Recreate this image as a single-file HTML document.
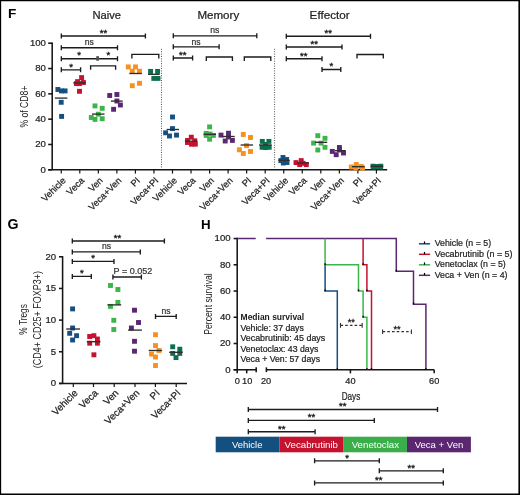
<!DOCTYPE html><html><head><meta charset="utf-8"><style>html,body{margin:0;padding:0;background:#fff;width:520px;height:495px;overflow:hidden;}svg{display:block;font-family:"Liberation Sans",sans-serif;will-change:transform;}</style></head><body>
<svg width="520" height="495" viewBox="0 0 520 495">
<rect x="0" y="0" width="520" height="495" fill="#fff"/>
<path d="M0,0H520V495H0Z M1.15,1.15V493.4H518.4V1.15Z" fill="#000" fill-rule="evenodd"/>
<text x="8.10" y="18.20" font-size="13.6" text-anchor="start" font-weight="bold" fill="#000" >F</text>
<text x="106.80" y="18.80" font-size="10.8" text-anchor="middle" font-weight="normal" fill="#222"  stroke="#222" stroke-width="0.22" textLength="28.6" lengthAdjust="spacingAndGlyphs">Naive</text>
<text x="218.30" y="18.70" font-size="10.8" text-anchor="middle" font-weight="normal" fill="#222"  stroke="#222" stroke-width="0.22" textLength="41.8" lengthAdjust="spacingAndGlyphs">Memory</text>
<text x="329.60" y="18.70" font-size="10.8" text-anchor="middle" font-weight="normal" fill="#222"  stroke="#222" stroke-width="0.22" textLength="40.0" lengthAdjust="spacingAndGlyphs">Effector</text>
<line x1="52.20" y1="42.50" x2="52.20" y2="169.80" stroke="#151515" stroke-width="1.55" />
<line x1="48.20" y1="169.80" x2="52.20" y2="169.80" stroke="#151515" stroke-width="1.55" />
<text x="45.90" y="172.55" font-size="9.6" text-anchor="end" font-weight="normal" fill="#222"  stroke="#222" stroke-width="0.22">0</text>
<line x1="48.20" y1="144.48" x2="52.20" y2="144.48" stroke="#151515" stroke-width="1.55" />
<text x="45.90" y="147.23" font-size="9.6" text-anchor="end" font-weight="normal" fill="#222"  stroke="#222" stroke-width="0.22">20</text>
<line x1="48.20" y1="119.16" x2="52.20" y2="119.16" stroke="#151515" stroke-width="1.55" />
<text x="45.90" y="121.91" font-size="9.6" text-anchor="end" font-weight="normal" fill="#222"  stroke="#222" stroke-width="0.22">40</text>
<line x1="48.20" y1="93.84" x2="52.20" y2="93.84" stroke="#151515" stroke-width="1.55" />
<text x="45.90" y="96.59" font-size="9.6" text-anchor="end" font-weight="normal" fill="#222"  stroke="#222" stroke-width="0.22">60</text>
<line x1="48.20" y1="68.52" x2="52.20" y2="68.52" stroke="#151515" stroke-width="1.55" />
<text x="45.90" y="71.27" font-size="9.6" text-anchor="end" font-weight="normal" fill="#222"  stroke="#222" stroke-width="0.22">80</text>
<line x1="48.20" y1="43.20" x2="52.20" y2="43.20" stroke="#151515" stroke-width="1.55" />
<text x="45.90" y="45.95" font-size="9.6" text-anchor="end" font-weight="normal" fill="#222"  stroke="#222" stroke-width="0.22">100</text>
<text transform="translate(27.90,106.60) rotate(-90) scale(1.0,1)" font-size="10.6" text-anchor="middle" fill="#222" textLength="42" lengthAdjust="spacingAndGlyphs">% of CD8+</text>
<line x1="48.20" y1="169.80" x2="387.20" y2="169.80" stroke="#151515" stroke-width="1.55" />
<line x1="61.25" y1="169.80" x2="61.25" y2="173.60" stroke="#151515" stroke-width="1.2" />
<text transform="translate(66.45,181.10) rotate(-45) scale(1.0,1)" font-size="9.3" text-anchor="end" fill="#222" stroke="#222" stroke-width="0.22">Vehicle</text>
<line x1="79.79" y1="169.80" x2="79.79" y2="173.60" stroke="#151515" stroke-width="1.2" />
<text transform="translate(84.99,181.10) rotate(-45) scale(1.0,1)" font-size="9.3" text-anchor="end" fill="#222" stroke="#222" stroke-width="0.22">Veca</text>
<line x1="98.33" y1="169.80" x2="98.33" y2="173.60" stroke="#151515" stroke-width="1.2" />
<text transform="translate(103.53,181.10) rotate(-45) scale(1.0,1)" font-size="9.3" text-anchor="end" fill="#222" stroke="#222" stroke-width="0.22">Ven</text>
<line x1="116.87" y1="169.80" x2="116.87" y2="173.60" stroke="#151515" stroke-width="1.2" />
<text transform="translate(122.07,181.10) rotate(-45) scale(1.0,1)" font-size="9.3" text-anchor="end" fill="#222" stroke="#222" stroke-width="0.22">Veca+Ven</text>
<line x1="135.41" y1="169.80" x2="135.41" y2="173.60" stroke="#151515" stroke-width="1.2" />
<text transform="translate(140.61,181.10) rotate(-45) scale(1.0,1)" font-size="9.3" text-anchor="end" fill="#222" stroke="#222" stroke-width="0.22">PI</text>
<line x1="153.95" y1="169.80" x2="153.95" y2="173.60" stroke="#151515" stroke-width="1.2" />
<text transform="translate(159.15,181.10) rotate(-45) scale(1.0,1)" font-size="9.3" text-anchor="end" fill="#222" stroke="#222" stroke-width="0.22">Veca+PI</text>
<line x1="172.49" y1="169.80" x2="172.49" y2="173.60" stroke="#151515" stroke-width="1.2" />
<text transform="translate(177.69,181.10) rotate(-45) scale(1.0,1)" font-size="9.3" text-anchor="end" fill="#222" stroke="#222" stroke-width="0.22">Vehicle</text>
<line x1="191.03" y1="169.80" x2="191.03" y2="173.60" stroke="#151515" stroke-width="1.2" />
<text transform="translate(196.23,181.10) rotate(-45) scale(1.0,1)" font-size="9.3" text-anchor="end" fill="#222" stroke="#222" stroke-width="0.22">Veca</text>
<line x1="209.57" y1="169.80" x2="209.57" y2="173.60" stroke="#151515" stroke-width="1.2" />
<text transform="translate(214.77,181.10) rotate(-45) scale(1.0,1)" font-size="9.3" text-anchor="end" fill="#222" stroke="#222" stroke-width="0.22">Ven</text>
<line x1="228.11" y1="169.80" x2="228.11" y2="173.60" stroke="#151515" stroke-width="1.2" />
<text transform="translate(233.31,181.10) rotate(-45) scale(1.0,1)" font-size="9.3" text-anchor="end" fill="#222" stroke="#222" stroke-width="0.22">Veca+Ven</text>
<line x1="246.65" y1="169.80" x2="246.65" y2="173.60" stroke="#151515" stroke-width="1.2" />
<text transform="translate(251.85,181.10) rotate(-45) scale(1.0,1)" font-size="9.3" text-anchor="end" fill="#222" stroke="#222" stroke-width="0.22">PI</text>
<line x1="265.19" y1="169.80" x2="265.19" y2="173.60" stroke="#151515" stroke-width="1.2" />
<text transform="translate(270.39,181.10) rotate(-45) scale(1.0,1)" font-size="9.3" text-anchor="end" fill="#222" stroke="#222" stroke-width="0.22">Veca+PI</text>
<line x1="283.73" y1="169.80" x2="283.73" y2="173.60" stroke="#151515" stroke-width="1.2" />
<text transform="translate(288.93,181.10) rotate(-45) scale(1.0,1)" font-size="9.3" text-anchor="end" fill="#222" stroke="#222" stroke-width="0.22">Vehicle</text>
<line x1="302.27" y1="169.80" x2="302.27" y2="173.60" stroke="#151515" stroke-width="1.2" />
<text transform="translate(307.47,181.10) rotate(-45) scale(1.0,1)" font-size="9.3" text-anchor="end" fill="#222" stroke="#222" stroke-width="0.22">Veca</text>
<line x1="320.81" y1="169.80" x2="320.81" y2="173.60" stroke="#151515" stroke-width="1.2" />
<text transform="translate(326.01,181.10) rotate(-45) scale(1.0,1)" font-size="9.3" text-anchor="end" fill="#222" stroke="#222" stroke-width="0.22">Ven</text>
<line x1="339.35" y1="169.80" x2="339.35" y2="173.60" stroke="#151515" stroke-width="1.2" />
<text transform="translate(344.55,181.10) rotate(-45) scale(1.0,1)" font-size="9.3" text-anchor="end" fill="#222" stroke="#222" stroke-width="0.22">Veca+Ven</text>
<line x1="357.89" y1="169.80" x2="357.89" y2="173.60" stroke="#151515" stroke-width="1.2" />
<text transform="translate(363.09,181.10) rotate(-45) scale(1.0,1)" font-size="9.3" text-anchor="end" fill="#222" stroke="#222" stroke-width="0.22">PI</text>
<line x1="376.43" y1="169.80" x2="376.43" y2="173.60" stroke="#151515" stroke-width="1.2" />
<text transform="translate(381.63,181.10) rotate(-45) scale(1.0,1)" font-size="9.3" text-anchor="end" fill="#222" stroke="#222" stroke-width="0.22">Veca+PI</text>
<line x1="161.50" y1="48.80" x2="161.50" y2="168.20" stroke="#555" stroke-width="1.0" stroke-dasharray="1,1.4"/>
<line x1="274.60" y1="48.80" x2="274.60" y2="168.20" stroke="#555" stroke-width="1.0" stroke-dasharray="1,1.4"/>
<path d="M61.30,33.50V38.50M61.30,36.00H145.40M145.40,33.50V38.50" fill="none" stroke="#1c1c1c" stroke-width="1.35"/>
<text x="103.50" y="35.80" font-size="9.5" text-anchor="middle" fill="#1c1c1c" stroke="#1c1c1c" stroke-width="0.38">**</text>
<path d="M61.30,45.20V50.20M61.30,47.70H117.50M117.50,45.20V50.20" fill="none" stroke="#1c1c1c" stroke-width="1.35"/>
<text x="89.30" y="45.20" font-size="8.6" text-anchor="middle" font-weight="normal" fill="#333"  stroke="#333" stroke-width="0.22">ns</text>
<path d="M61.30,56.20V61.20M61.30,58.70H117.50M117.50,56.20V61.20" fill="none" stroke="#1c1c1c" stroke-width="1.35"/>
<text x="79.00" y="58.40" font-size="9.5" text-anchor="middle" fill="#1c1c1c" stroke="#1c1c1c" stroke-width="0.38">*</text>
<text x="108.30" y="58.40" font-size="9.5" text-anchor="middle" fill="#1c1c1c" stroke="#1c1c1c" stroke-width="0.38">*</text>
<rect x="96.2" y="56.2" width="2.8" height="4.5" fill="#505050"/>
<path d="M61.30,67.30V72.30M61.30,69.80H80.60M80.60,67.30V72.30" fill="none" stroke="#1c1c1c" stroke-width="1.35"/>
<text x="71.00" y="69.50" font-size="9.5" text-anchor="middle" fill="#1c1c1c" stroke="#1c1c1c" stroke-width="0.38">*</text>
<path d="M90.60,69.80V65.80H115.60V69.80" fill="none" stroke="#1c1c1c" stroke-width="1.35"/>
<path d="M131.90,58.40V54.40H158.80V58.40" fill="none" stroke="#1c1c1c" stroke-width="1.35"/>
<path d="M173.30,33.30V38.30M173.30,35.80H256.80M256.80,33.30V38.30" fill="none" stroke="#1c1c1c" stroke-width="1.35"/>
<text x="214.80" y="33.40" font-size="8.6" text-anchor="middle" font-weight="normal" fill="#333"  stroke="#333" stroke-width="0.22">ns</text>
<path d="M173.30,44.30V49.30M173.30,46.80H219.10M219.10,44.30V49.30" fill="none" stroke="#1c1c1c" stroke-width="1.35"/>
<text x="196.10" y="44.50" font-size="8.6" text-anchor="middle" font-weight="normal" fill="#333"  stroke="#333" stroke-width="0.22">ns</text>
<path d="M173.30,55.50V60.50M173.30,58.00H192.60M192.60,55.50V60.50" fill="none" stroke="#1c1c1c" stroke-width="1.35"/>
<text x="182.70" y="57.80" font-size="9.5" text-anchor="middle" fill="#1c1c1c" stroke="#1c1c1c" stroke-width="0.38">**</text>
<path d="M206.30,61.00V57.00H232.40V61.00" fill="none" stroke="#1c1c1c" stroke-width="1.35"/>
<path d="M244.30,61.00V57.00H270.80V61.00" fill="none" stroke="#1c1c1c" stroke-width="1.35"/>
<path d="M286.30,33.70V38.70M286.30,36.20H370.50M370.50,33.70V38.70" fill="none" stroke="#1c1c1c" stroke-width="1.35"/>
<text x="328.30" y="36.00" font-size="9.5" text-anchor="middle" fill="#1c1c1c" stroke="#1c1c1c" stroke-width="0.38">**</text>
<path d="M286.30,44.50V49.50M286.30,47.00H342.00M342.00,44.50V49.50" fill="none" stroke="#1c1c1c" stroke-width="1.35"/>
<text x="314.30" y="46.80" font-size="9.5" text-anchor="middle" fill="#1c1c1c" stroke="#1c1c1c" stroke-width="0.38">**</text>
<path d="M286.30,56.20V61.20M286.30,58.70H322.00M322.00,56.20V61.20" fill="none" stroke="#1c1c1c" stroke-width="1.35"/>
<text x="303.80" y="58.50" font-size="9.5" text-anchor="middle" fill="#1c1c1c" stroke="#1c1c1c" stroke-width="0.38">**</text>
<path d="M322.00,67.00V72.00M322.00,69.50H340.80M340.80,67.00V72.00" fill="none" stroke="#1c1c1c" stroke-width="1.35"/>
<text x="331.30" y="69.30" font-size="9.5" text-anchor="middle" fill="#1c1c1c" stroke="#1c1c1c" stroke-width="0.38">*</text>
<path d="M357.00,58.50V54.50H383.30V58.50" fill="none" stroke="#1c1c1c" stroke-width="1.35"/>
<rect x="55.45" y="87.05" width="4.9" height="4.9" fill="#164F80"/>
<rect x="59.05" y="88.45" width="4.9" height="4.9" fill="#164F80"/>
<rect x="62.65" y="88.45" width="4.9" height="4.9" fill="#164F80"/>
<rect x="58.75" y="99.85" width="4.9" height="4.9" fill="#164F80"/>
<rect x="59.15" y="113.95" width="4.9" height="4.9" fill="#164F80"/>
<line x1="54.90" y1="98.10" x2="67.40" y2="98.10" stroke="#2e2e2e" stroke-width="1.35" />
<rect x="79.15" y="75.15" width="4.9" height="4.9" fill="#C5122F"/>
<rect x="75.15" y="79.15" width="4.9" height="4.9" fill="#C5122F"/>
<rect x="80.95" y="80.05" width="4.9" height="4.9" fill="#C5122F"/>
<rect x="73.95" y="81.15" width="4.9" height="4.9" fill="#C5122F"/>
<rect x="76.95" y="81.15" width="4.9" height="4.9" fill="#C5122F"/>
<rect x="77.05" y="88.85" width="4.9" height="4.9" fill="#C5122F"/>
<line x1="73.30" y1="82.90" x2="86.00" y2="82.90" stroke="#2e2e2e" stroke-width="1.35" />
<rect x="92.55" y="103.45" width="4.9" height="4.9" fill="#3BB54A"/>
<rect x="99.75" y="105.85" width="4.9" height="4.9" fill="#3BB54A"/>
<rect x="95.85" y="111.75" width="4.9" height="4.9" fill="#3BB54A"/>
<rect x="88.85" y="115.05" width="4.9" height="4.9" fill="#3BB54A"/>
<rect x="92.55" y="116.95" width="4.9" height="4.9" fill="#3BB54A"/>
<rect x="99.75" y="116.25" width="4.9" height="4.9" fill="#3BB54A"/>
<line x1="92.00" y1="114.10" x2="104.50" y2="114.10" stroke="#2e2e2e" stroke-width="1.35" />
<rect x="107.25" y="93.05" width="4.9" height="4.9" fill="#5A2770"/>
<rect x="114.45" y="92.05" width="4.9" height="4.9" fill="#5A2770"/>
<rect x="114.45" y="98.55" width="4.9" height="4.9" fill="#5A2770"/>
<rect x="117.95" y="102.55" width="4.9" height="4.9" fill="#5A2770"/>
<rect x="111.15" y="106.85" width="4.9" height="4.9" fill="#5A2770"/>
<line x1="110.90" y1="101.10" x2="122.70" y2="101.10" stroke="#2e2e2e" stroke-width="1.35" />
<rect x="125.85" y="64.45" width="4.9" height="4.9" fill="#F7901E"/>
<rect x="133.05" y="64.45" width="4.9" height="4.9" fill="#F7901E"/>
<rect x="129.85" y="68.75" width="4.9" height="4.9" fill="#F7901E"/>
<rect x="137.05" y="68.75" width="4.9" height="4.9" fill="#F7901E"/>
<rect x="129.85" y="83.25" width="4.9" height="4.9" fill="#F7901E"/>
<rect x="137.05" y="80.85" width="4.9" height="4.9" fill="#F7901E"/>
<line x1="129.30" y1="73.50" x2="141.80" y2="73.50" stroke="#2e2e2e" stroke-width="1.35" />
<rect x="148.15" y="68.95" width="4.9" height="4.9" fill="#0B6E4F"/>
<rect x="155.15" y="68.95" width="4.9" height="4.9" fill="#0B6E4F"/>
<rect x="151.35" y="75.95" width="4.9" height="4.9" fill="#0B6E4F"/>
<rect x="155.55" y="75.95" width="4.9" height="4.9" fill="#0B6E4F"/>
<line x1="148.00" y1="74.30" x2="159.70" y2="74.30" stroke="#2e2e2e" stroke-width="1.35" />
<rect x="170.05" y="114.55" width="4.9" height="4.9" fill="#164F80"/>
<rect x="170.05" y="126.15" width="4.9" height="4.9" fill="#164F80"/>
<rect x="163.15" y="130.35" width="4.9" height="4.9" fill="#164F80"/>
<rect x="167.05" y="133.55" width="4.9" height="4.9" fill="#164F80"/>
<rect x="174.05" y="132.65" width="4.9" height="4.9" fill="#164F80"/>
<line x1="166.60" y1="129.50" x2="179.00" y2="129.50" stroke="#2e2e2e" stroke-width="1.35" />
<rect x="188.85" y="134.75" width="4.9" height="4.9" fill="#C5122F"/>
<rect x="185.05" y="138.05" width="4.9" height="4.9" fill="#C5122F"/>
<rect x="192.35" y="138.35" width="4.9" height="4.9" fill="#C5122F"/>
<rect x="185.05" y="140.05" width="4.9" height="4.9" fill="#C5122F"/>
<rect x="189.05" y="141.75" width="4.9" height="4.9" fill="#C5122F"/>
<rect x="192.85" y="141.75" width="4.9" height="4.9" fill="#C5122F"/>
<line x1="184.90" y1="141.20" x2="197.40" y2="141.20" stroke="#2e2e2e" stroke-width="1.35" />
<rect x="207.15" y="124.45" width="4.9" height="4.9" fill="#3BB54A"/>
<rect x="203.75" y="130.95" width="4.9" height="4.9" fill="#3BB54A"/>
<rect x="210.95" y="132.95" width="4.9" height="4.9" fill="#3BB54A"/>
<rect x="203.75" y="132.95" width="4.9" height="4.9" fill="#3BB54A"/>
<rect x="207.15" y="136.75" width="4.9" height="4.9" fill="#3BB54A"/>
<rect x="207.55" y="131.55" width="4.9" height="4.9" fill="#3BB54A"/>
<line x1="203.60" y1="134.30" x2="216.00" y2="134.30" stroke="#2e2e2e" stroke-width="1.35" />
<rect x="218.55" y="132.65" width="4.9" height="4.9" fill="#5A2770"/>
<rect x="226.05" y="130.75" width="4.9" height="4.9" fill="#5A2770"/>
<rect x="222.75" y="138.55" width="4.9" height="4.9" fill="#5A2770"/>
<rect x="229.95" y="137.95" width="4.9" height="4.9" fill="#5A2770"/>
<rect x="226.05" y="134.55" width="4.9" height="4.9" fill="#5A2770"/>
<line x1="222.20" y1="136.50" x2="234.70" y2="136.50" stroke="#2e2e2e" stroke-width="1.35" />
<rect x="240.85" y="132.05" width="4.9" height="4.9" fill="#F7901E"/>
<rect x="248.05" y="135.05" width="4.9" height="4.9" fill="#F7901E"/>
<rect x="244.05" y="143.15" width="4.9" height="4.9" fill="#F7901E"/>
<rect x="236.95" y="147.35" width="4.9" height="4.9" fill="#F7901E"/>
<rect x="240.85" y="151.05" width="4.9" height="4.9" fill="#F7901E"/>
<rect x="248.05" y="149.05" width="4.9" height="4.9" fill="#F7901E"/>
<line x1="240.60" y1="145.00" x2="253.10" y2="145.00" stroke="#2e2e2e" stroke-width="1.35" />
<rect x="259.85" y="138.95" width="4.9" height="4.9" fill="#0B6E4F"/>
<rect x="266.45" y="138.95" width="4.9" height="4.9" fill="#0B6E4F"/>
<rect x="259.65" y="144.85" width="4.9" height="4.9" fill="#0B6E4F"/>
<rect x="266.75" y="144.85" width="4.9" height="4.9" fill="#0B6E4F"/>
<rect x="263.15" y="141.95" width="4.9" height="4.9" fill="#0B6E4F"/>
<rect x="263.15" y="145.15" width="4.9" height="4.9" fill="#0B6E4F"/>
<line x1="259.00" y1="145.00" x2="271.70" y2="145.00" stroke="#2e2e2e" stroke-width="1.35" />
<rect x="280.55" y="155.05" width="4.9" height="4.9" fill="#164F80"/>
<rect x="278.45" y="158.15" width="4.9" height="4.9" fill="#164F80"/>
<rect x="284.15" y="157.05" width="4.9" height="4.9" fill="#164F80"/>
<rect x="280.85" y="160.55" width="4.9" height="4.9" fill="#164F80"/>
<rect x="284.55" y="160.05" width="4.9" height="4.9" fill="#164F80"/>
<line x1="278.30" y1="160.30" x2="289.70" y2="160.30" stroke="#2e2e2e" stroke-width="1.35" />
<rect x="298.75" y="158.15" width="4.9" height="4.9" fill="#C5122F"/>
<rect x="293.55" y="160.15" width="4.9" height="4.9" fill="#C5122F"/>
<rect x="297.25" y="162.15" width="4.9" height="4.9" fill="#C5122F"/>
<rect x="303.85" y="162.15" width="4.9" height="4.9" fill="#C5122F"/>
<rect x="300.55" y="160.85" width="4.9" height="4.9" fill="#C5122F"/>
<line x1="297.00" y1="163.00" x2="309.00" y2="163.00" stroke="#2e2e2e" stroke-width="1.35" />
<rect x="315.35" y="133.25" width="4.9" height="4.9" fill="#3BB54A"/>
<rect x="322.55" y="135.85" width="4.9" height="4.9" fill="#3BB54A"/>
<rect x="311.15" y="140.65" width="4.9" height="4.9" fill="#3BB54A"/>
<rect x="318.55" y="140.65" width="4.9" height="4.9" fill="#3BB54A"/>
<rect x="322.55" y="144.85" width="4.9" height="4.9" fill="#3BB54A"/>
<rect x="315.35" y="147.55" width="4.9" height="4.9" fill="#3BB54A"/>
<line x1="315.10" y1="142.30" x2="327.20" y2="142.30" stroke="#2e2e2e" stroke-width="1.35" />
<rect x="336.95" y="145.05" width="4.9" height="4.9" fill="#5A2770"/>
<rect x="329.85" y="148.95" width="4.9" height="4.9" fill="#5A2770"/>
<rect x="333.75" y="152.25" width="4.9" height="4.9" fill="#5A2770"/>
<rect x="341.05" y="150.55" width="4.9" height="4.9" fill="#5A2770"/>
<rect x="337.05" y="147.55" width="4.9" height="4.9" fill="#5A2770"/>
<line x1="334.80" y1="150.70" x2="345.70" y2="150.70" stroke="#2e2e2e" stroke-width="1.35" />
<rect x="353.85" y="162.05" width="4.9" height="4.9" fill="#F7901E"/>
<rect x="348.85" y="164.55" width="4.9" height="4.9" fill="#F7901E"/>
<rect x="358.85" y="164.05" width="4.9" height="4.9" fill="#F7901E"/>
<rect x="353.55" y="165.55" width="4.9" height="4.9" fill="#F7901E"/>
<rect x="360.05" y="165.55" width="4.9" height="4.9" fill="#F7901E"/>
<line x1="352.00" y1="166.70" x2="364.60" y2="166.70" stroke="#2e2e2e" stroke-width="1.35" />
<rect x="370.55" y="163.75" width="4.9" height="4.9" fill="#0B6E4F"/>
<rect x="378.35" y="163.75" width="4.9" height="4.9" fill="#0B6E4F"/>
<rect x="374.05" y="164.05" width="4.9" height="4.9" fill="#0B6E4F"/>
<rect x="371.05" y="164.55" width="4.9" height="4.9" fill="#0B6E4F"/>
<rect x="378.05" y="164.55" width="4.9" height="4.9" fill="#0B6E4F"/>
<line x1="370.60" y1="166.30" x2="383.20" y2="166.30" stroke="#2e2e2e" stroke-width="1.35" />
<text x="7.50" y="228.50" font-size="14.2" text-anchor="start" font-weight="bold" fill="#000" >G</text>
<line x1="62.60" y1="256.10" x2="62.60" y2="383.40" stroke="#151515" stroke-width="1.55" />
<line x1="59.00" y1="383.40" x2="62.60" y2="383.40" stroke="#151515" stroke-width="1.55" />
<text x="56.20" y="386.15" font-size="9.6" text-anchor="end" font-weight="normal" fill="#222"  stroke="#222" stroke-width="0.22">0</text>
<line x1="59.00" y1="351.75" x2="62.60" y2="351.75" stroke="#151515" stroke-width="1.55" />
<text x="56.20" y="354.50" font-size="9.6" text-anchor="end" font-weight="normal" fill="#222"  stroke="#222" stroke-width="0.22">5</text>
<line x1="59.00" y1="320.10" x2="62.60" y2="320.10" stroke="#151515" stroke-width="1.55" />
<text x="56.20" y="322.85" font-size="9.6" text-anchor="end" font-weight="normal" fill="#222"  stroke="#222" stroke-width="0.22">10</text>
<line x1="59.00" y1="288.45" x2="62.60" y2="288.45" stroke="#151515" stroke-width="1.55" />
<text x="56.20" y="291.20" font-size="9.6" text-anchor="end" font-weight="normal" fill="#222"  stroke="#222" stroke-width="0.22">15</text>
<line x1="59.00" y1="256.80" x2="62.60" y2="256.80" stroke="#151515" stroke-width="1.55" />
<text x="56.20" y="259.55" font-size="9.6" text-anchor="end" font-weight="normal" fill="#222"  stroke="#222" stroke-width="0.22">20</text>
<text transform="translate(27.10,319.40) rotate(-90) scale(1.0,1)" font-size="11.2" text-anchor="middle" fill="#222" textLength="30.6" lengthAdjust="spacingAndGlyphs">% Tregs</text>
<text transform="translate(40.70,319.60) rotate(-90) scale(1.0,1)" font-size="11.4" text-anchor="middle" fill="#222" textLength="97.2" lengthAdjust="spacingAndGlyphs">(CD4+ CD25+ FOXP3+)</text>
<line x1="59.00" y1="383.40" x2="187.00" y2="383.40" stroke="#151515" stroke-width="1.55" />
<line x1="73.30" y1="383.40" x2="73.30" y2="387.00" stroke="#151515" stroke-width="1.2" />
<text transform="translate(78.30,393.60) rotate(-45) scale(1.0,1)" font-size="9.8" text-anchor="end" fill="#222" stroke="#222" stroke-width="0.22">Vehicle</text>
<line x1="93.50" y1="383.40" x2="93.50" y2="387.00" stroke="#151515" stroke-width="1.2" />
<text transform="translate(98.50,393.60) rotate(-45) scale(1.0,1)" font-size="9.8" text-anchor="end" fill="#222" stroke="#222" stroke-width="0.22">Veca</text>
<line x1="114.20" y1="383.40" x2="114.20" y2="387.00" stroke="#151515" stroke-width="1.2" />
<text transform="translate(119.20,393.60) rotate(-45) scale(1.0,1)" font-size="9.8" text-anchor="end" fill="#222" stroke="#222" stroke-width="0.22">Ven</text>
<line x1="135.00" y1="383.40" x2="135.00" y2="387.00" stroke="#151515" stroke-width="1.2" />
<text transform="translate(140.00,393.60) rotate(-45) scale(1.0,1)" font-size="9.8" text-anchor="end" fill="#222" stroke="#222" stroke-width="0.22">Veca+Ven</text>
<line x1="155.40" y1="383.40" x2="155.40" y2="387.00" stroke="#151515" stroke-width="1.2" />
<text transform="translate(160.40,393.60) rotate(-45) scale(1.0,1)" font-size="9.8" text-anchor="end" fill="#222" stroke="#222" stroke-width="0.22">PI</text>
<line x1="176.20" y1="383.40" x2="176.20" y2="387.00" stroke="#151515" stroke-width="1.2" />
<text transform="translate(181.20,393.60) rotate(-45) scale(1.0,1)" font-size="9.8" text-anchor="end" fill="#222" stroke="#222" stroke-width="0.22">Veca+PI</text>
<path d="M72.30,238.50V243.50M72.30,241.00H164.40M164.40,238.50V243.50" fill="none" stroke="#1c1c1c" stroke-width="1.35"/>
<text x="117.50" y="240.80" font-size="9.5" text-anchor="middle" fill="#1c1c1c" stroke="#1c1c1c" stroke-width="0.38">**</text>
<path d="M72.30,249.40V254.40M72.30,251.90H140.30M140.30,249.40V254.40" fill="none" stroke="#1c1c1c" stroke-width="1.35"/>
<text x="106.60" y="249.40" font-size="8.6" text-anchor="middle" font-weight="normal" fill="#333"  stroke="#333" stroke-width="0.22">ns</text>
<path d="M72.30,258.90V263.90M72.30,261.40H114.00M114.00,258.90V263.90" fill="none" stroke="#1c1c1c" stroke-width="1.35"/>
<text x="93.10" y="261.20" font-size="9.5" text-anchor="middle" fill="#1c1c1c" stroke="#1c1c1c" stroke-width="0.38">*</text>
<path d="M72.30,273.90V278.90M72.30,276.40H91.30M91.30,273.90V278.90" fill="none" stroke="#1c1c1c" stroke-width="1.35"/>
<text x="81.80" y="276.20" font-size="9.5" text-anchor="middle" fill="#1c1c1c" stroke="#1c1c1c" stroke-width="0.38">*</text>
<path d="M112.90,274.50V279.50M112.90,277.00H141.40M141.40,274.50V279.50" fill="none" stroke="#1c1c1c" stroke-width="1.35"/>
<text x="113.60" y="273.50" font-size="9.0" text-anchor="start" font-weight="normal" fill="#333"  stroke="#333" stroke-width="0.22">P = 0.052</text>
<path d="M155.50,313.90V318.90M155.50,316.40H176.20M176.20,313.90V318.90" fill="none" stroke="#1c1c1c" stroke-width="1.35"/>
<text x="166.00" y="314.20" font-size="8.6" text-anchor="middle" font-weight="normal" fill="#333"  stroke="#333" stroke-width="0.22">ns</text>
<rect x="70.15" y="306.45" width="4.9" height="4.9" fill="#164F80"/>
<rect x="70.15" y="325.55" width="4.9" height="4.9" fill="#164F80"/>
<rect x="67.25" y="330.85" width="4.9" height="4.9" fill="#164F80"/>
<rect x="74.15" y="333.25" width="4.9" height="4.9" fill="#164F80"/>
<rect x="70.15" y="337.55" width="4.9" height="4.9" fill="#164F80"/>
<line x1="66.20" y1="329.00" x2="80.00" y2="329.00" stroke="#2e2e2e" stroke-width="1.35" />
<rect x="87.25" y="334.05" width="4.9" height="4.9" fill="#C5122F"/>
<rect x="91.45" y="333.25" width="4.9" height="4.9" fill="#C5122F"/>
<rect x="94.95" y="336.55" width="4.9" height="4.9" fill="#C5122F"/>
<rect x="87.25" y="340.75" width="4.9" height="4.9" fill="#C5122F"/>
<rect x="94.95" y="340.75" width="4.9" height="4.9" fill="#C5122F"/>
<rect x="91.45" y="352.35" width="4.9" height="4.9" fill="#C5122F"/>
<line x1="86.80" y1="341.70" x2="100.50" y2="341.70" stroke="#2e2e2e" stroke-width="1.35" />
<rect x="108.05" y="283.05" width="4.9" height="4.9" fill="#3BB54A"/>
<rect x="115.45" y="287.05" width="4.9" height="4.9" fill="#3BB54A"/>
<rect x="115.45" y="299.95" width="4.9" height="4.9" fill="#3BB54A"/>
<rect x="108.05" y="303.95" width="4.9" height="4.9" fill="#3BB54A"/>
<rect x="111.35" y="317.85" width="4.9" height="4.9" fill="#3BB54A"/>
<rect x="111.35" y="327.05" width="4.9" height="4.9" fill="#3BB54A"/>
<line x1="107.40" y1="304.90" x2="121.20" y2="304.90" stroke="#2e2e2e" stroke-width="1.35" />
<rect x="132.05" y="307.75" width="4.9" height="4.9" fill="#5A2770"/>
<rect x="136.05" y="320.05" width="4.9" height="4.9" fill="#5A2770"/>
<rect x="128.95" y="325.55" width="4.9" height="4.9" fill="#5A2770"/>
<rect x="132.05" y="338.85" width="4.9" height="4.9" fill="#5A2770"/>
<rect x="132.05" y="348.75" width="4.9" height="4.9" fill="#5A2770"/>
<line x1="128.10" y1="330.10" x2="141.90" y2="330.10" stroke="#2e2e2e" stroke-width="1.35" />
<rect x="153.05" y="332.25" width="4.9" height="4.9" fill="#F7901E"/>
<rect x="153.05" y="343.15" width="4.9" height="4.9" fill="#F7901E"/>
<rect x="156.55" y="348.05" width="4.9" height="4.9" fill="#F7901E"/>
<rect x="149.05" y="351.65" width="4.9" height="4.9" fill="#F7901E"/>
<rect x="153.05" y="354.55" width="4.9" height="4.9" fill="#F7901E"/>
<rect x="153.05" y="363.05" width="4.9" height="4.9" fill="#F7901E"/>
<line x1="148.70" y1="350.50" x2="162.10" y2="350.50" stroke="#2e2e2e" stroke-width="1.35" />
<rect x="170.25" y="344.35" width="4.9" height="4.9" fill="#0B6E4F"/>
<rect x="177.35" y="346.75" width="4.9" height="4.9" fill="#0B6E4F"/>
<rect x="170.25" y="350.95" width="4.9" height="4.9" fill="#0B6E4F"/>
<rect x="177.35" y="350.95" width="4.9" height="4.9" fill="#0B6E4F"/>
<rect x="173.55" y="355.15" width="4.9" height="4.9" fill="#0B6E4F"/>
<line x1="169.20" y1="352.30" x2="182.70" y2="352.30" stroke="#2e2e2e" stroke-width="1.35" />
<text x="201.00" y="228.80" font-size="13.3" text-anchor="start" font-weight="bold" fill="#000" >H</text>
<line x1="237.20" y1="237.85" x2="237.20" y2="369.75" stroke="#151515" stroke-width="1.55" />
<line x1="233.60" y1="369.75" x2="237.20" y2="369.75" stroke="#151515" stroke-width="1.55" />
<text x="230.60" y="372.65" font-size="9.6" text-anchor="end" font-weight="normal" fill="#222"  stroke="#222" stroke-width="0.22">0</text>
<line x1="233.60" y1="343.51" x2="237.20" y2="343.51" stroke="#151515" stroke-width="1.55" />
<text x="230.60" y="346.41" font-size="9.6" text-anchor="end" font-weight="normal" fill="#222"  stroke="#222" stroke-width="0.22">20</text>
<line x1="233.60" y1="317.27" x2="237.20" y2="317.27" stroke="#151515" stroke-width="1.55" />
<text x="230.60" y="320.17" font-size="9.6" text-anchor="end" font-weight="normal" fill="#222"  stroke="#222" stroke-width="0.22">40</text>
<line x1="233.60" y1="291.03" x2="237.20" y2="291.03" stroke="#151515" stroke-width="1.55" />
<text x="230.60" y="293.93" font-size="9.6" text-anchor="end" font-weight="normal" fill="#222"  stroke="#222" stroke-width="0.22">60</text>
<line x1="233.60" y1="264.79" x2="237.20" y2="264.79" stroke="#151515" stroke-width="1.55" />
<text x="230.60" y="267.69" font-size="9.6" text-anchor="end" font-weight="normal" fill="#222"  stroke="#222" stroke-width="0.22">80</text>
<line x1="233.60" y1="238.55" x2="237.20" y2="238.55" stroke="#151515" stroke-width="1.55" />
<text x="230.60" y="241.45" font-size="9.6" text-anchor="end" font-weight="normal" fill="#222"  stroke="#222" stroke-width="0.22">100</text>
<text transform="translate(211.60,304.00) rotate(-90) scale(1.0,1)" font-size="11.0" text-anchor="middle" fill="#222" textLength="61.4" lengthAdjust="spacingAndGlyphs">Percent survival</text>
<line x1="233.60" y1="369.75" x2="256.20" y2="369.75" stroke="#151515" stroke-width="1.55" />
<line x1="256.20" y1="367.35" x2="256.20" y2="372.15" stroke="#151515" stroke-width="1.55" />
<line x1="237.20" y1="369.75" x2="237.20" y2="373.35" stroke="#151515" stroke-width="1.55" />
<line x1="246.70" y1="369.75" x2="246.70" y2="373.35" stroke="#151515" stroke-width="1.55" />
<line x1="266.40" y1="367.35" x2="266.40" y2="372.15" stroke="#151515" stroke-width="1.55" />
<line x1="266.40" y1="369.75" x2="434.20" y2="369.75" stroke="#151515" stroke-width="1.55" />
<line x1="350.40" y1="369.75" x2="350.40" y2="373.35" stroke="#151515" stroke-width="1.55" />
<line x1="434.20" y1="369.75" x2="434.20" y2="373.35" stroke="#151515" stroke-width="1.55" />
<text x="237.20" y="384.20" font-size="9.2" text-anchor="middle" font-weight="normal" fill="#222"  stroke="#222" stroke-width="0.22">0</text>
<text x="247.20" y="384.20" font-size="9.2" text-anchor="middle" font-weight="normal" fill="#222"  stroke="#222" stroke-width="0.22">10</text>
<text x="266.00" y="384.20" font-size="9.2" text-anchor="middle" font-weight="normal" fill="#222"  stroke="#222" stroke-width="0.22">20</text>
<text x="350.40" y="384.20" font-size="9.2" text-anchor="middle" font-weight="normal" fill="#222"  stroke="#222" stroke-width="0.22">40</text>
<text x="434.20" y="384.20" font-size="9.2" text-anchor="middle" font-weight="normal" fill="#222"  stroke="#222" stroke-width="0.22">60</text>
<text x="351.00" y="399.60" font-size="11.3" text-anchor="middle" font-weight="normal" fill="#222"  stroke="#222" stroke-width="0.22" textLength="18.6" lengthAdjust="spacingAndGlyphs">Days</text>
<path d="M237.2,238.55H255.7M266.1,238.55H396.3V271.35H413.5V304.15H425.9V369.75" fill="none" stroke="#5A2770" stroke-width="1.5"/>
<path d="M325.1,264.79V291.03H337.3V369.75" fill="none" stroke="#164F80" stroke-width="1.5"/>
<path d="M363.1,238.55V264.79H366.9V291.03H371.5V369.75" fill="none" stroke="#C5122F" stroke-width="1.5"/>
<path d="M325.1,238.55V264.79H358.5V291.03H363.1V317.27H366.9V369.75" fill="none" stroke="#3BB54A" stroke-width="1.5"/>
<line x1="325.10" y1="263.19" x2="325.10" y2="264.99" stroke="#000" stroke-width="1.4" />
<line x1="325.10" y1="289.43" x2="325.10" y2="291.23" stroke="#000" stroke-width="1.4" />
<line x1="358.50" y1="289.43" x2="358.50" y2="291.23" stroke="#000" stroke-width="1.4" />
<line x1="363.10" y1="315.67" x2="363.10" y2="317.47" stroke="#000" stroke-width="1.4" />
<line x1="363.10" y1="263.19" x2="363.10" y2="264.99" stroke="#000" stroke-width="1.4" />
<line x1="366.90" y1="289.43" x2="366.90" y2="291.23" stroke="#000" stroke-width="1.4" />
<line x1="396.30" y1="269.75" x2="396.30" y2="271.55" stroke="#000" stroke-width="1.4" />
<line x1="413.50" y1="302.55" x2="413.50" y2="304.35" stroke="#000" stroke-width="1.4" />
<line x1="337.30" y1="368.15" x2="337.30" y2="369.95" stroke="#000" stroke-width="1.4" />
<line x1="366.90" y1="368.15" x2="366.90" y2="369.95" stroke="#000" stroke-width="1.4" />
<line x1="371.50" y1="368.15" x2="371.50" y2="369.95" stroke="#000" stroke-width="1.4" />
<line x1="425.90" y1="368.15" x2="425.90" y2="369.95" stroke="#000" stroke-width="1.4" />
<path d="M340.50,323.10V327.70M362.20,323.10V327.70" stroke="#333" stroke-width="1.1" fill="none"/>
<line x1="340.50" y1="325.40" x2="362.20" y2="325.40" stroke="#333" stroke-width="1.2" stroke-dasharray="2.6,2.1"/>
<text x="351.30" y="325.30" font-size="9.2" text-anchor="middle" fill="#1c1c1c" stroke="#1c1c1c" stroke-width="0.3">**</text>
<path d="M382.60,329.40V334.00M411.40,329.40V334.00" stroke="#333" stroke-width="1.1" fill="none"/>
<line x1="382.60" y1="331.70" x2="411.40" y2="331.70" stroke="#333" stroke-width="1.2" stroke-dasharray="2.6,2.1"/>
<text x="397.00" y="331.60" font-size="9.2" text-anchor="middle" fill="#1c1c1c" stroke="#1c1c1c" stroke-width="0.3">**</text>
<text x="240.60" y="319.90" font-size="8.6" text-anchor="start" font-weight="bold" fill="#1a1a1a"  textLength="63.6" lengthAdjust="spacingAndGlyphs">Median survival</text>
<text x="240.40" y="330.60" font-size="8.8" text-anchor="start" font-weight="normal" fill="#222"  stroke="#222" stroke-width="0.22" textLength="63.4" lengthAdjust="spacingAndGlyphs">Vehicle: 37 days</text>
<text x="240.40" y="341.20" font-size="8.8" text-anchor="start" font-weight="normal" fill="#222"  stroke="#222" stroke-width="0.22" textLength="84.8" lengthAdjust="spacingAndGlyphs">Vecabrutinib: 45 days</text>
<text x="240.40" y="351.60" font-size="8.8" text-anchor="start" font-weight="normal" fill="#222"  stroke="#222" stroke-width="0.22" textLength="78.0" lengthAdjust="spacingAndGlyphs">Venetoclax: 43 days</text>
<text x="240.40" y="361.80" font-size="8.8" text-anchor="start" font-weight="normal" fill="#222"  stroke="#222" stroke-width="0.22" textLength="79.6" lengthAdjust="spacingAndGlyphs">Veca + Ven: 57 days</text>
<line x1="418.90" y1="243.80" x2="430.10" y2="243.80" stroke="#164F80" stroke-width="1.5" />
<line x1="424.50" y1="241.40" x2="424.50" y2="243.80" stroke="#000" stroke-width="1.2" />
<text x="434.70" y="246.10" font-size="9.0" text-anchor="start" font-weight="normal" fill="#222"  stroke="#222" stroke-width="0.22" textLength="56.4" lengthAdjust="spacingAndGlyphs">Vehicle (n = 5)</text>
<line x1="418.90" y1="254.30" x2="430.10" y2="254.30" stroke="#C5122F" stroke-width="1.5" />
<line x1="424.50" y1="251.90" x2="424.50" y2="254.30" stroke="#000" stroke-width="1.2" />
<text x="434.70" y="256.60" font-size="9.0" text-anchor="start" font-weight="normal" fill="#222"  stroke="#222" stroke-width="0.22" textLength="77.9" lengthAdjust="spacingAndGlyphs">Vecabrutinib (n = 5)</text>
<line x1="418.90" y1="264.80" x2="430.10" y2="264.80" stroke="#3BB54A" stroke-width="1.5" />
<line x1="424.50" y1="262.40" x2="424.50" y2="264.80" stroke="#000" stroke-width="1.2" />
<text x="434.70" y="267.10" font-size="9.0" text-anchor="start" font-weight="normal" fill="#222"  stroke="#222" stroke-width="0.22" textLength="71.1" lengthAdjust="spacingAndGlyphs">Venetoclax (n = 5)</text>
<line x1="418.90" y1="275.30" x2="430.10" y2="275.30" stroke="#5A2770" stroke-width="1.5" />
<line x1="424.50" y1="272.90" x2="424.50" y2="275.30" stroke="#000" stroke-width="1.2" />
<text x="434.70" y="277.60" font-size="9.0" text-anchor="start" font-weight="normal" fill="#222"  stroke="#222" stroke-width="0.22" textLength="72.8" lengthAdjust="spacingAndGlyphs">Veca + Ven (n = 4)</text>
<rect x="215.7" y="436.7" width="63.8" height="15.6" fill="#14507F"/>
<rect x="279.5" y="436.7" width="63.6" height="15.6" fill="#C5122F"/>
<rect x="343.1" y="436.7" width="63.9" height="15.6" fill="#3AAE4A"/>
<rect x="407.0" y="436.7" width="63.9" height="15.6" fill="#5A2770"/>
<text x="247.20" y="447.50" font-size="9.6" text-anchor="middle" font-weight="normal" fill="#fff"  textLength="30.4" lengthAdjust="spacingAndGlyphs">Vehicle</text>
<text x="311.30" y="447.50" font-size="9.6" text-anchor="middle" font-weight="normal" fill="#fff"  textLength="53.4" lengthAdjust="spacingAndGlyphs">Vecabrutinib</text>
<text x="375.40" y="447.50" font-size="9.6" text-anchor="middle" font-weight="normal" fill="#fff"  textLength="47.4" lengthAdjust="spacingAndGlyphs">Venetoclax</text>
<text x="439.00" y="447.50" font-size="9.6" text-anchor="middle" font-weight="normal" fill="#fff"  textLength="48.6" lengthAdjust="spacingAndGlyphs">Veca + Ven</text>
<path d="M248.30,407.00V412.00M248.30,409.50H437.50M437.50,407.00V412.00" fill="none" stroke="#1c1c1c" stroke-width="1.35"/>
<text x="342.80" y="409.30" font-size="9.5" text-anchor="middle" fill="#1c1c1c" stroke="#1c1c1c" stroke-width="0.38">**</text>
<path d="M248.30,417.90V422.90M248.30,420.40H374.30M374.30,417.90V422.90" fill="none" stroke="#1c1c1c" stroke-width="1.35"/>
<text x="311.50" y="420.20" font-size="9.5" text-anchor="middle" fill="#1c1c1c" stroke="#1c1c1c" stroke-width="0.38">**</text>
<path d="M248.30,429.20V434.20M248.30,431.70H315.10M315.10,429.20V434.20" fill="none" stroke="#1c1c1c" stroke-width="1.35"/>
<text x="281.70" y="431.50" font-size="9.5" text-anchor="middle" fill="#1c1c1c" stroke="#1c1c1c" stroke-width="0.38">**</text>
<path d="M314.60,458.30V463.30M314.60,460.80H379.30M379.30,458.30V463.30" fill="none" stroke="#1c1c1c" stroke-width="1.35"/>
<text x="347.00" y="460.60" font-size="9.5" text-anchor="middle" fill="#1c1c1c" stroke="#1c1c1c" stroke-width="0.38">*</text>
<path d="M379.30,468.30V473.30M379.30,470.80H443.30M443.30,468.30V473.30" fill="none" stroke="#1c1c1c" stroke-width="1.35"/>
<text x="411.30" y="470.60" font-size="9.5" text-anchor="middle" fill="#1c1c1c" stroke="#1c1c1c" stroke-width="0.38">**</text>
<path d="M314.60,480.40V485.40M314.60,482.90H443.30M443.30,480.40V485.40" fill="none" stroke="#1c1c1c" stroke-width="1.35"/>
<text x="378.80" y="482.70" font-size="9.5" text-anchor="middle" fill="#1c1c1c" stroke="#1c1c1c" stroke-width="0.38">**</text>
</svg></body></html>
